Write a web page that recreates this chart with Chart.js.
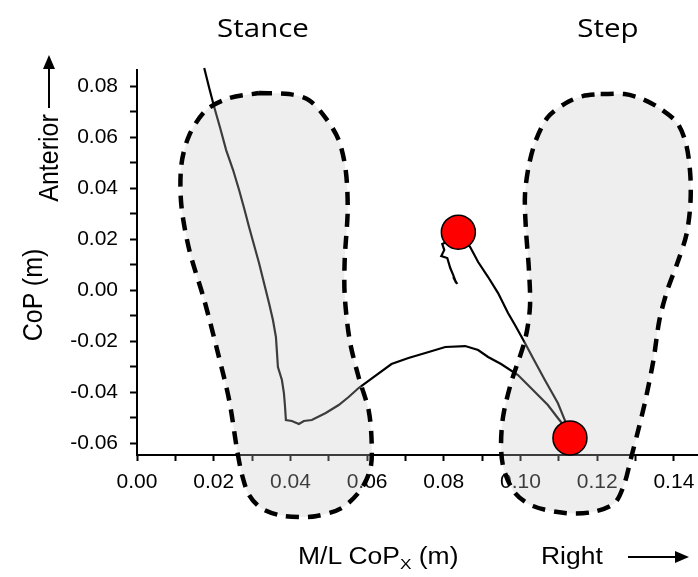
<!DOCTYPE html>
<html lang="en">
<head>
<meta charset="UTF-8">
<title>CoP trajectory</title>
<script src="https://cdn.jsdelivr.net/npm/chart.js@4.4.1/dist/chart.umd.min.js"></script>
<style>
  html, body { margin: 0; padding: 0; background: #fff; overflow: hidden; }
  #fig { position: relative; width: 698px; height: 577px; overflow: hidden; }
  #grafico { position: absolute; left: 0; top: 0; }
  .txt { position: absolute; white-space: nowrap; color: #000; line-height: 1; }
  .titulo { font-family: "Open Sans", sans-serif; font-size: 25px; top: 15px; transform: translateX(-50%) scaleX(1.18); }
  .eixo { font-family: "Liberation Sans", Arial, sans-serif; font-size: 25px; transform: translate(-50%, -50%) rotate(-90deg) scaleY(1.1); }
  .rodape { font-family: "Liberation Sans", Arial, sans-serif; font-size: 23px; top: 545px; transform-origin: 0 0; transform: scaleX(1.15); }
  .rodape sub { font-size: 15px; vertical-align: -5px; }
  svg { position: absolute; overflow: visible; }
</style>
</head>
<body>
<div id="fig">
  <canvas id="grafico" width="780" height="577"></canvas>
  <div class="txt titulo" style="left:263px">Stance</div>
  <div class="txt titulo" style="left:608px">Step</div>
  <div class="txt eixo" style="left:33px; top:295px">CoP (m)</div>
  <div class="txt eixo" style="left:49px; top:158px">Anterior</div>
  <svg style="left:41px; top:54px" width="16" height="56">
    <line x1="8" y1="12" x2="8" y2="54" stroke="#000" stroke-width="2"/>
    <polygon points="8,1 2,15 14,15" fill="#000"/>
  </svg>
  <div class="txt rodape" style="left:298px">M/L CoP<sub>X</sub> (m)</div>
  <div class="txt rodape" style="left:541px">Right</div>
  <svg style="left:626px; top:549px" width="66" height="16">
    <line x1="2" y1="8" x2="52" y2="8" stroke="#000" stroke-width="2"/>
    <polygon points="63,8 49,2 49,14" fill="#000"/>
  </svg>
</div>

<script>
// eixos (m)
const xMin = 0, xMax = 0.16;
const yMin = -0.0647, yMax = 0.0863;

// trajetória do CoP: apoio -> passo -> volta
const copX = [0.01753, 0.01883, 0.02013, 0.02169, 0.02325, 0.02506, 0.02662, 0.02792, 0.02922, 0.03052,
  0.03182, 0.03312, 0.03442, 0.03545, 0.03623, 0.03649, 0.03675, 0.03779, 0.03831, 0.03857,
  0.03883, 0.04039, 0.04221, 0.04351, 0.04558, 0.04922, 0.05260, 0.05519, 0.05779, 0.06169,
  0.06636, 0.07078, 0.07519, 0.08039, 0.08558, 0.08896, 0.09156, 0.09494, 0.09935, 0.10325,
  0.10714, 0.10974, 0.11182, 0.11286,
  0.11156, 0.10974, 0.10636, 0.10325, 0.10117, 0.09857, 0.09675, 0.09416, 0.09156, 0.08896,
  0.08688, 0.08506, 0.08377,
  0.08169, 0.07961, 0.08013, 0.07935, 0.08091, 0.08169, 0.08247, 0.08325, 0.08247, 0.08351];
const copY = [0.08706, 0.07922, 0.07176, 0.06353, 0.05490, 0.04706, 0.03922, 0.03216, 0.02471, 0.01765,
  0.01059, 0.00275, -0.00510, -0.01176, -0.01843, -0.02431, -0.03020, -0.03529, -0.04039, -0.04510,
  -0.05098, -0.05137, -0.05255, -0.05137, -0.05098, -0.04824, -0.04510, -0.04196, -0.03843, -0.03412,
  -0.02902, -0.02667, -0.02471, -0.02235, -0.02196, -0.02353, -0.02627, -0.02902, -0.03333, -0.03922,
  -0.04510, -0.05020, -0.05412, -0.05725,
  -0.05098, -0.04431, -0.03529, -0.02667, -0.02078, -0.01373, -0.00902, -0.00118, 0.00510, 0.01098,
  0.01686, 0.02039, 0.02275,
  0.01961, 0.01804, 0.01569, 0.01333, 0.01255, 0.00863, 0.00588, 0.00275, 0.00510, 0.00235];

// contorno do pé de apoio (fechado)
const stanceX = [0.03182, 0.03961, 0.04481, 0.04922, 0.05260, 0.05442, 0.05494, 0.05416, 0.05416, 0.05545,
  0.05779, 0.06039, 0.06117, 0.06091, 0.05831, 0.05338, 0.04688, 0.04221, 0.03701, 0.03234,
  0.02922, 0.02740, 0.02610, 0.02403, 0.02091, 0.01753, 0.01364, 0.01156, 0.01156, 0.01364,
  0.01805, 0.02403, 0.03182];
const stanceY = [0.07725, 0.07686, 0.07451, 0.06745, 0.05882, 0.04706, 0.03137, 0.01176, -0.00196, -0.01961,
  -0.03412, -0.04706, -0.05882, -0.06980, -0.07843, -0.08549, -0.08863, -0.08902, -0.08824, -0.08549,
  -0.08039, -0.07255, -0.06275, -0.04314, -0.02353, -0.00392, 0.01569, 0.03333, 0.04902, 0.06078,
  0.07059, 0.07529, 0.07725];

// contorno do pé do passo (fechado)
const stepX = [0.12091, 0.12714, 0.13182, 0.13623, 0.14091, 0.14325, 0.14429, 0.14429, 0.14325, 0.14091,
  0.13831, 0.13623, 0.13468, 0.13260, 0.13052, 0.12870, 0.12714, 0.12455, 0.11883, 0.11156,
  0.10325, 0.09857, 0.09571, 0.09494, 0.09545, 0.09753, 0.10117, 0.10247, 0.10221, 0.10143,
  0.10117, 0.10221, 0.10403, 0.10714, 0.11182, 0.11623, 0.12091];
const stepY = [0.07686, 0.07686, 0.07490, 0.07137, 0.06549, 0.05686, 0.04510, 0.03333, 0.02157, 0.01059,
  0.00000, -0.01176, -0.02745, -0.04314, -0.05608, -0.06667, -0.07569, -0.08353, -0.08706, -0.08745,
  -0.08471, -0.07961, -0.07059, -0.06157, -0.04980, -0.03647, -0.01961, -0.00667, 0.00784, 0.02353,
  0.03725, 0.04902, 0.05882, 0.06784, 0.07333, 0.07608, 0.07686];

// marcadores (toque do passo e posição final)
const markX = [0.1129, 0.0838];
const markY = [-0.0580, 0.0227];

const pts = (xs, ys) => xs.map((x, i) => ({ x: x, y: ys[i] }));

// só rótulos nos múltiplos de 0.02
function rotulo(value) {
  const c = Math.round(value * 100);
  if (c % 2 !== 0) return '';
  return (c / 100).toFixed(2);
}

// o preenchimento dos pés passa por baixo do eixo x, então
// libera a área de desenho enquanto os datasets são pintados
const semRecorte = {
  id: 'semRecorte',
  beforeDatasetsDraw(chart) {
    const a = chart.chartArea;
    chart.$areaOrig = { left: a.left, top: a.top, right: a.right, bottom: a.bottom, width: a.width, height: a.height };
    Object.assign(a, { left: 0, top: 0, right: chart.width, bottom: chart.height, width: chart.width, height: chart.height });
  },
  afterDatasetsDraw(chart) {
    Object.assign(chart.chartArea, chart.$areaOrig);
  }
};

const pe = {
  showLine: true,
  fill: 'shape',
  backgroundColor: 'rgba(200,200,200,0.3)',
  borderColor: '#000',
  borderWidth: 4.5,
  borderDash: [13, 9],
  pointRadius: 0,
  tension: 0.3,
  clip: false
};

const fonteTicks = { family: 'Liberation Sans', size: 21 };

new Chart(document.getElementById('grafico'), {
  type: 'scatter',
  data: {
    datasets: [
      { data: pts(copX, copY), showLine: true, borderColor: '#000', borderWidth: 2.2, pointRadius: 0, tension: 0, clip: false, order: 3 },
      Object.assign({ data: pts(stanceX, stanceY), order: 2 }, pe),
      Object.assign({ data: pts(stepX, stepY), order: 1 }, pe),
      { data: pts(markX, markY), pointRadius: 17, backgroundColor: '#ff0000', borderColor: '#000', borderWidth: 1.5, clip: false, order: 0 }
    ]
  },
  options: {
    responsive: false,
    animation: false,
    devicePixelRatio: 1,
    layout: { padding: { top: 70, right: 26, bottom: 82, left: 0 } },
    plugins: { legend: { display: false }, tooltip: { enabled: false } },
    scales: {
      x: {
        type: 'linear', min: xMin, max: xMax,
        border: { color: '#000', width: 2 },
        grid: { drawOnChartArea: false, tickLength: 6, tickColor: '#000', tickWidth: 2 },
        ticks: { stepSize: 0.01, includeBounds: false, autoSkip: false, maxRotation: 0, padding: 9, color: '#000', font: fonteTicks, callback: rotulo },
        afterFit: s => { s.height = 40; }
      },
      y: {
        type: 'linear', min: yMin, max: yMax,
        border: { color: '#000', width: 2 },
        grid: { drawOnChartArea: false, tickLength: 7, tickColor: '#000', tickWidth: 2 },
        ticks: { stepSize: 0.01, includeBounds: false, autoSkip: false, padding: 12, color: '#000', font: fonteTicks, callback: rotulo },
        afterFit: s => { s.width = 137; }
      }
    }
  },
  plugins: [semRecorte]
});
</script>
</body>
</html>
